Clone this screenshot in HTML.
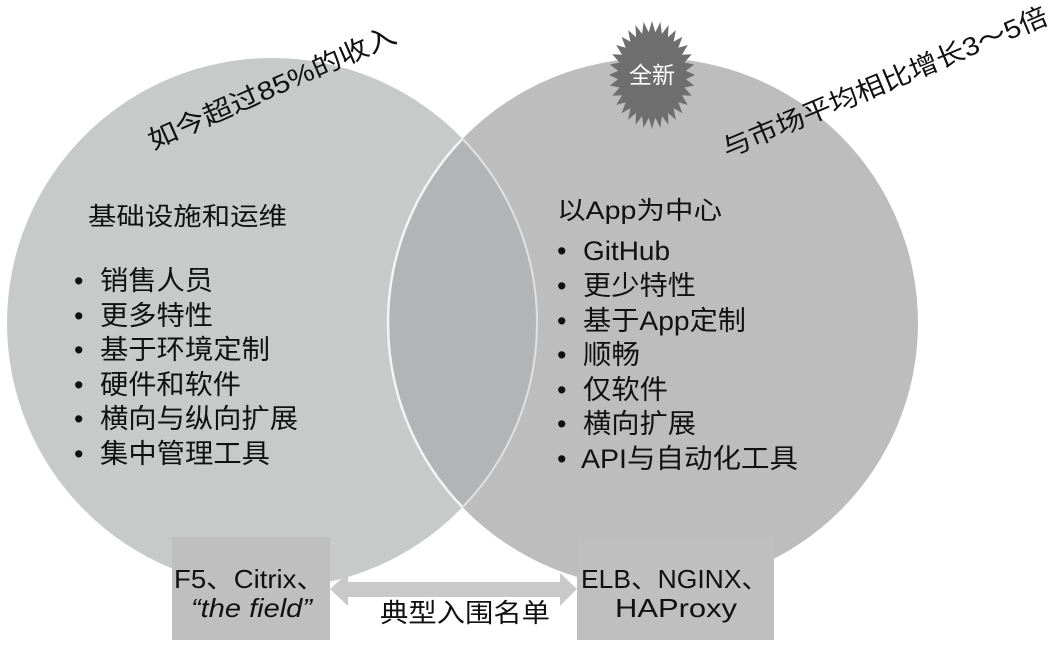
<!DOCTYPE html>
<html><head><meta charset="utf-8"><style>
body{margin:0;background:#fff;}
svg text{font-family:"Liberation Sans","Noto Sans CJK SC",sans-serif;fill:#111;}
</style></head><body>
<svg width="1052" height="644" viewBox="0 0 1052 644" xmlns="http://www.w3.org/2000/svg">
<defs><clipPath id="cl"><circle cx="272" cy="323" r="265"/></clipPath>
<clipPath id="cr"><circle cx="653" cy="323" r="265"/></clipPath></defs>
<circle cx="272" cy="323" r="265" fill="#c8c9c9"/>
<circle cx="653" cy="323" r="265" fill="#bdbdbd"/>
<circle cx="653" cy="323" r="265" fill="#b3b4b5" clip-path="url(#cl)"/>
<circle cx="653" cy="323" r="265" fill="none" stroke="#f4f4f4" stroke-width="2.5" clip-path="url(#cl)"/>
<circle cx="272" cy="323" r="265" fill="none" stroke="#e0e0e0" stroke-width="2" clip-path="url(#cr)"/>
<polygon id="star" fill="#6e6e6e" points=""/>
<text x="652" y="83" font-size="23" text-anchor="middle" style="fill:#fff">全新</text>
<text transform="translate(153,150) rotate(-23.8)" font-size="26" textLength="268" lengthAdjust="spacingAndGlyphs">如今超过85%的收入</text>
<text transform="translate(727,158) rotate(-22.7)" font-size="26" textLength="350" lengthAdjust="spacingAndGlyphs">与市场平均相比增长3～5倍</text>
<g font-size="25">
<text x="88" y="225" textLength="199" lengthAdjust="spacingAndGlyphs">基础设施和运维</text>
<text x="557" y="219" textLength="165" lengthAdjust="spacingAndGlyphs">以App为中心</text>
</g>
<g font-size="27">
<text x="74" y="290">•</text><text x="100" y="290" textLength="113" lengthAdjust="spacingAndGlyphs">销售人员</text>
<text x="74" y="325">•</text><text x="100" y="325" textLength="113" lengthAdjust="spacingAndGlyphs">更多特性</text>
<text x="74" y="359">•</text><text x="100" y="359" textLength="170" lengthAdjust="spacingAndGlyphs">基于环境定制</text>
<text x="74" y="394">•</text><text x="100" y="394" textLength="141" lengthAdjust="spacingAndGlyphs">硬件和软件</text>
<text x="74" y="428">•</text><text x="100" y="428" textLength="198" lengthAdjust="spacingAndGlyphs">横向与纵向扩展</text>
<text x="74" y="463">•</text><text x="100" y="463" textLength="170" lengthAdjust="spacingAndGlyphs">集中管理工具</text>
<text x="557" y="260">•</text><text x="583" y="260" textLength="87" lengthAdjust="spacingAndGlyphs">GitHub</text>
<text x="557" y="295">•</text><text x="583" y="295" textLength="113" lengthAdjust="spacingAndGlyphs">更少特性</text>
<text x="557" y="330">•</text><text x="583" y="330" textLength="163" lengthAdjust="spacingAndGlyphs">基于App定制</text>
<text x="557" y="364">•</text><text x="583" y="364" textLength="57" lengthAdjust="spacingAndGlyphs">顺畅</text>
<text x="557" y="399">•</text><text x="583" y="399" textLength="85" lengthAdjust="spacingAndGlyphs">仅软件</text>
<text x="557" y="433">•</text><text x="583" y="433" textLength="113" lengthAdjust="spacingAndGlyphs">横向扩展</text>
<text x="557" y="468">•</text><text x="581" y="468" textLength="217" lengthAdjust="spacingAndGlyphs">API与自动化工具</text>
</g>
<rect x="172" y="537" width="158" height="103" fill="#bfbfbf"/>
<rect x="577" y="537" width="197" height="103" fill="#bfbfbf"/>
<polygon fill="#c9c9c9" points="330,589 348,573 348,582 560,582 560,573 577,589 560,606 560,597 348,597 348,606"/>
<g font-size="26">
<text x="174" y="588" textLength="150" lengthAdjust="spacingAndGlyphs">F5、Citrix、</text>
<text x="191" y="617" font-style="italic" textLength="121" lengthAdjust="spacingAndGlyphs">“the field”</text>
<text x="581" y="588" textLength="187" lengthAdjust="spacingAndGlyphs">ELB、NGINX、</text>
<text x="615" y="617" textLength="122" lengthAdjust="spacingAndGlyphs">HAProxy</text>
<text x="380" y="622" textLength="170" lengthAdjust="spacingAndGlyphs">典型入围名单</text>
</g>
</svg>
<script>
var p=[],n=32;for(var i=0;i<2*n;i++){var a=Math.PI*i/n,o=i%2==0;var rx=o?43:34,ry=o?54:43;p.push((652+rx*Math.sin(a)).toFixed(1)+","+(75-ry*Math.cos(a)).toFixed(1));}
document.getElementById('star').setAttribute('points',p.join(' '));
</script>
</body></html>
